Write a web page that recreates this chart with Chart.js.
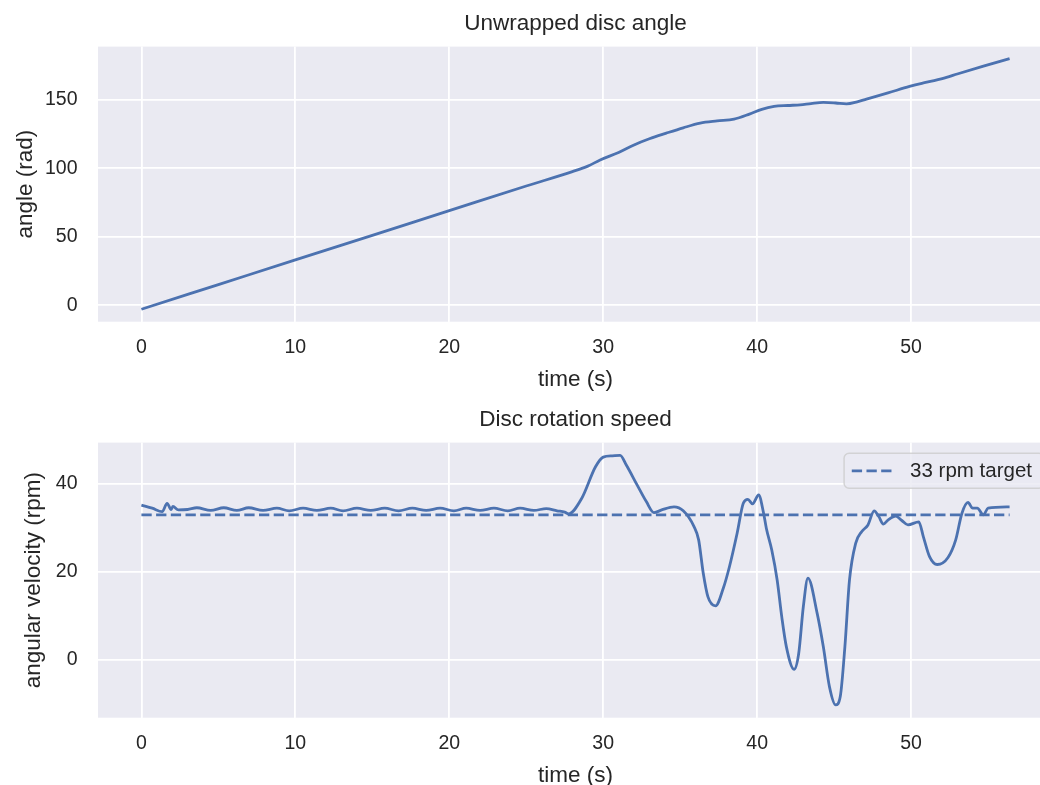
<!DOCTYPE html>
<html>
<head>
<meta charset="utf-8">
<script src="https://cdn.jsdelivr.net/npm/chart.js@4.4.1/dist/chart.umd.min.js"></script>
<style>
  html, body { margin: 0; padding: 0; background: #fff; overflow: hidden; width: 1040px; height: 785px; }
  .painel { position: absolute; left: 0; width: 1053px; height: 396px; }
  #painelAngulo { top: 0; }
  #painelVelocidade { top: 396px; }
</style>
</head>
<body>
<div class="painel" id="painelAngulo"><canvas id="graficoAngulo"></canvas></div>
<div class="painel" id="painelVelocidade"><canvas id="graficoVelocidade"></canvas></div>
<script>
// valores
const tempoAngulo = [0, 5, 10, 15, 20, 25, 28, 29, 29.8, 31, 32, 33, 34.1, 35.2, 36.3, 37.4, 38.5, 39.5,
  40.3, 41.1, 42, 42.8, 43.5, 44.3, 45.1, 45.8, 46.5, 47.1, 48.5, 49.9, 50.7, 51.5, 52.3, 53.0, 54.7, 56.4];
const angulo = [-3, 15, 33, 51, 69, 87, 97.5, 101.5, 106, 111.5, 117, 121.5, 125.6, 129.5, 132.9, 134.5, 135.8, 139.5,
  143, 145.1, 145.8, 146.3, 147.2, 148, 147.6, 147, 148.5, 150.5, 155, 159.7, 162, 164, 166.3, 168.8, 174.5, 180];

const tempoVelocidade = [
  0, 0.7, 1.35, 1.67, 1.93, 2.05, 2.4, 3.0, 3.6, 4.5,
  5.35, 6.2, 6.97, 7.9, 8.8, 9.6, 10.5, 11.4, 12.3, 13.1,
  14.0, 14.9, 15.8, 16.7, 17.6, 18.5, 19.4, 20.3, 21.1, 22.0,
  22.9, 23.8, 24.6, 25.5, 26.3, 27.0, 27.5, 27.75, 28.6, 29.5,
  30.0, 30.6, 31.1, 31.5, 32.2, 32.8, 33.3, 33.8, 34.6, 35.2,
  35.9, 36.2, 36.5, 36.8, 37.3, 37.8, 38.2, 38.7, 39.1, 39.4,
  39.7, 40.1, 40.4, 40.6, 40.95, 41.3, 41.6, 41.9, 42.4, 42.7,
  43.0, 43.3, 43.9, 44.3, 44.7, 45.1, 45.4, 45.7, 46.0, 46.4,
  46.8, 47.2, 47.6, 47.9, 48.2, 48.5, 49.0, 49.4, 49.8, 50.5,
  50.8, 51.2, 51.7, 52.4, 52.9, 53.3, 53.7, 54.0, 54.3, 54.7,
  55.0, 56.4
];
const velocidade = [
  35.2, 34.5, 33.7, 35.6, 34.2, 34.9, 34.1, 34.2, 34.6, 34.0,
  34.6, 34.0, 34.6, 34.0, 34.5, 33.9, 34.5, 34.0, 34.5, 33.9,
  34.5, 34.0, 34.5, 33.9, 34.5, 34.0, 34.5, 33.9, 34.5, 34.0,
  34.5, 33.9, 34.5, 34.0, 34.4, 33.9, 33.6, 33.2, 36.7, 43.9,
  46.1, 46.4, 46.5, 44.3, 39.8, 36.0, 33.5, 34.1, 34.8, 33.9,
  30.3, 27.3, 19.7, 14.4, 12.3, 16.3, 21.2, 28.8, 35.6, 36.5,
  35.5, 37.5, 33.7, 29.9, 25.0, 18.2, 9.8, 3.0, -2.1, 1.5,
  12.1, 18.6, 10.6, 3.0, -6.1, -10.2, -8.3, 3.0, 18.2, 26.5,
  29.2, 30.7, 33.9, 32.6, 30.9, 31.8, 32.7, 31.7, 30.7, 31.4,
  28.0, 23.5, 21.7, 23.3, 27.3, 33.3, 35.8, 34.5, 34.5, 33.0,
  34.5, 34.8
];

const tempoAlvo = [0, 56.4];
const rpmAlvo = [33, 33];

const ticksX = [0, 10, 20, 30, 40, 50];
const ticksAngulo = [0, 50, 100, 150];
const ticksVelocidade = [0, 20, 40];

const azul = '#4C72B0';
const texto = '#262626';

Chart.defaults.font.family = "'Liberation Sans', Arial, sans-serif";
Chart.defaults.color = texto;

function pontos(xs, ys) {
  return xs.map((x, i) => ({ x: x, y: ys[i] }));
}

// fundo cinza da area do grafico (estilo seaborn)
const fundo = {
  id: 'fundo',
  beforeDraw(chart) {
    const { ctx, chartArea } = chart;
    ctx.save();
    ctx.fillStyle = '#EAEAF2';
    ctx.fillRect(chartArea.left, chartArea.top, chartArea.right - chartArea.left, chartArea.bottom - chartArea.top);
    ctx.restore();
  }
};

// legenda dentro do grafico, canto superior direito
const legendaCaixa = {
  id: 'legendaCaixa',
  afterDatasetsDraw(chart) {
    const ds = chart.data.datasets[1];
    const { ctx, chartArea } = chart;
    const fs = 20.5;
    ctx.save();
    ctx.font = fs + "px 'Liberation Sans', Arial, sans-serif";
    const tw = ctx.measureText(ds.label).width;
    const w = tw + 78;
    const h = 35;
    const x0 = chartArea.right - 9 - w;
    const y0 = chartArea.top + 10.7;
    ctx.beginPath();
    ctx.roundRect(x0, y0, w, h, 5);
    ctx.fillStyle = 'rgba(234,234,242,0.8)';
    ctx.fill();
    ctx.strokeStyle = 'rgba(204,204,204,0.8)';
    ctx.lineWidth = 1.5;
    ctx.stroke();
    const yc = y0 + h / 2;
    ctx.beginPath();
    ctx.setLineDash(ds.borderDash);
    ctx.strokeStyle = ds.borderColor;
    ctx.lineWidth = ds.borderWidth;
    ctx.moveTo(x0 + 7.7, yc);
    ctx.lineTo(x0 + 49.3, yc);
    ctx.stroke();
    ctx.setLineDash([]);
    ctx.fillStyle = texto;
    ctx.textBaseline = 'middle';
    ctx.fillText(ds.label, x0 + 66, yc + 1);
    ctx.restore();
  }
};

function eixos(ticksY, yMin, yMax, rotuloY, padRotuloY) {
  return {
    x: {
      type: 'linear',
      min: -2.82,
      max: 59.22,
      afterBuildTicks: s => { s.ticks = ticksX.map(v => ({ value: v })); },
      afterFit: s => { s.height = 74.3; },
      grid: { color: '#ffffff', lineWidth: 1.8, drawTicks: false },
      border: { display: false },
      ticks: { padding: 14.6, font: { size: 19.5 }, color: texto },
      title: { display: true, text: 'time (s)', font: { size: 22.5 }, color: texto, padding: { top: 0, bottom: 2.5 } }
    },
    y: {
      type: 'linear',
      min: yMin,
      max: yMax,
      afterBuildTicks: s => { s.ticks = ticksY.map(v => ({ value: v })); },
      afterFit: s => { s.width = 98; },
      grid: { color: '#ffffff', lineWidth: 1.8, drawTicks: false },
      border: { display: false },
      ticks: { padding: 20.5, font: { size: 19.5 }, color: texto },
      title: { display: true, text: rotuloY, font: { size: 22.5 }, color: texto, padding: { top: padRotuloY, bottom: 0 } }
    }
  };
}

function titulo(txt) {
  return {
    display: true,
    text: txt,
    fullSize: false,
    color: texto,
    font: { size: 22.5, weight: 'normal' },
    padding: { top: 10.5, bottom: 9.1 }
  };
}

new Chart(document.getElementById('graficoAngulo'), {
  type: 'line',
  data: {
    datasets: [{
      label: 'angle',
      data: pontos(tempoAngulo, angulo),
      borderColor: azul,
      borderWidth: 2.8,
      pointRadius: 0,
      cubicInterpolationMode: 'monotone',
      fill: false
    }]
  },
  options: {
    responsive: true,
    maintainAspectRatio: false,
    animation: false,
    events: [],
    layout: { padding: 0 },
    scales: eixos(ticksAngulo, -12.1, 188.8, 'angle (rad)', 12),
    plugins: {
      legend: { display: false },
      tooltip: { enabled: false },
      title: titulo('Unwrapped disc angle')
    }
  },
  plugins: [fundo]
});

new Chart(document.getElementById('graficoVelocidade'), {
  type: 'line',
  data: {
    datasets: [
      {
        label: 'speed',
        data: pontos(tempoVelocidade, velocidade),
        borderColor: azul,
        borderWidth: 2.8,
        pointRadius: 0,
        cubicInterpolationMode: 'monotone',
        fill: false
      },
      {
        label: '33 rpm target',
        data: pontos(tempoAlvo, rpmAlvo),
        borderColor: azul,
        borderWidth: 2.8,
        borderDash: [10.3, 4.4],
        pointRadius: 0,
        fill: false
      }
    ]
  },
  options: {
    responsive: true,
    maintainAspectRatio: false,
    animation: false,
    events: [],
    layout: { padding: 0 },
    scales: eixos(ticksVelocidade, -13.1, 49.4, 'angular velocity (rpm)', 20.5),
    plugins: {
      legend: { display: false },
      tooltip: { enabled: false },
      title: titulo('Disc rotation speed')
    }
  },
  plugins: [fundo, legendaCaixa]
});
</script>
</body>
</html>
